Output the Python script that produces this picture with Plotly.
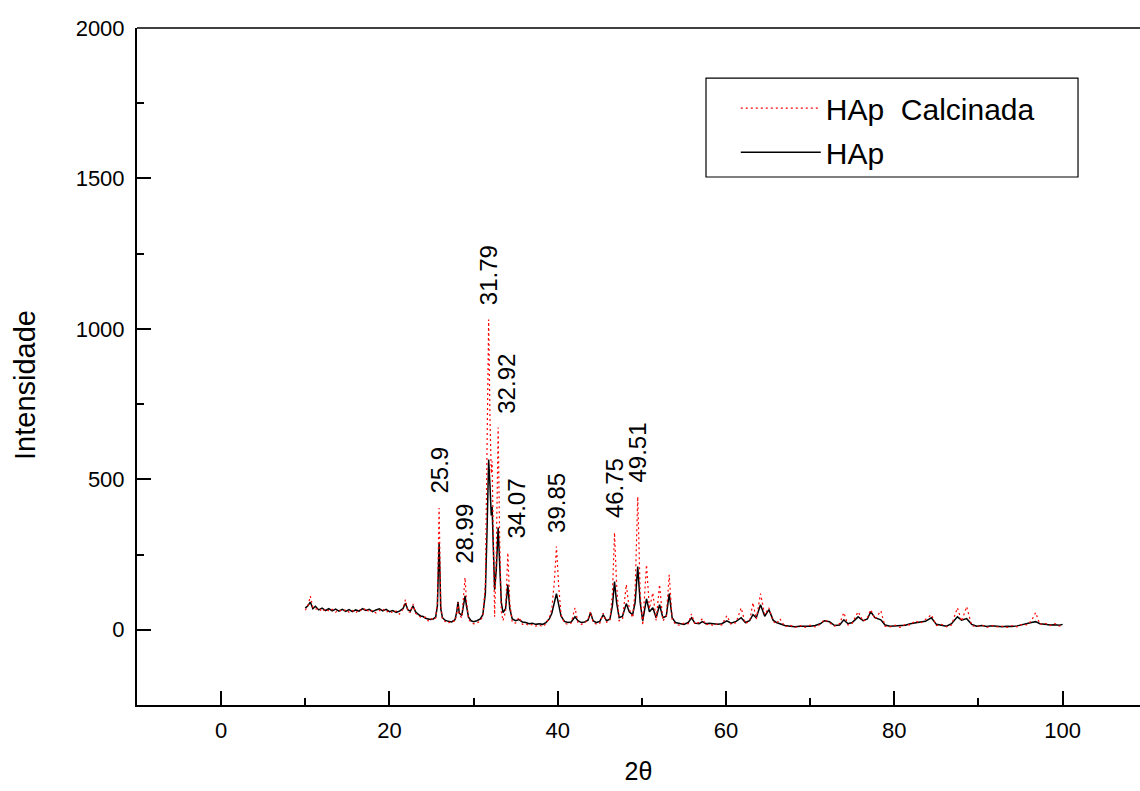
import plotly.graph_objects as go

# ---------------- data ----------------
two_theta = [
    10.0, 10.3, 10.6, 10.9, 11.2, 11.6, 12.0, 12.4, 12.8, 13.2, 13.6, 14.0, 14.4, 14.8,
    15.2, 15.6, 16.0, 16.4, 16.8, 17.2, 17.6, 18.0, 18.4, 18.8, 19.2, 19.6, 20.0, 20.4,
    20.8, 21.2, 21.6, 21.9, 22.2, 22.5, 22.8, 23.1, 23.4, 23.7, 24.0, 24.3, 24.6, 24.9,
    25.2, 25.5, 25.7, 25.8, 25.9, 26.0, 26.1, 26.3, 26.6, 27.0, 27.4, 27.8, 28.0, 28.15,
    28.3, 28.6, 28.85, 28.99, 29.15, 29.4, 29.7, 30.0, 30.4, 30.8, 31.1, 31.4, 31.6, 31.79,
    31.95, 32.1, 32.2, 32.35, 32.5, 32.7, 32.92, 33.1, 33.3, 33.5, 33.8, 34.07, 34.3, 34.6,
    35.0, 35.4, 35.8, 36.2, 36.6, 37.0, 37.4, 37.8, 38.2, 38.6, 39.0, 39.3, 39.6, 39.85,
    40.1, 40.4, 40.8, 41.2, 41.6, 42.05, 42.4, 42.8, 43.2, 43.6, 43.9, 44.2, 44.6, 45.0,
    45.4, 45.8, 46.2, 46.5, 46.75, 47.0, 47.3, 47.7, 48.15, 48.5, 48.9, 49.2, 49.51, 49.8,
    50.1, 50.55, 50.9, 51.3, 51.7, 52.1, 52.5, 52.9, 53.25, 53.6, 54.0, 54.5, 55.0, 55.5,
    55.9, 56.3, 56.8, 57.2, 57.6, 58.0, 58.5, 59.0, 59.5, 60.1, 60.6, 61.2, 61.8, 62.3,
    62.8, 63.2, 63.6, 64.1, 64.6, 65.1, 65.6, 66.0, 66.4, 67.0, 67.6, 68.2, 68.8, 69.4,
    70.0, 70.6, 71.2, 71.7, 72.3, 72.9, 73.5, 74.0, 74.5, 75.0, 75.7, 76.3, 76.8, 77.2,
    77.7, 78.4, 78.9, 79.5, 80.1, 80.7, 81.3, 81.9, 82.5, 83.1, 83.7, 84.4, 85.0, 85.6,
    86.2, 86.8, 87.5, 88.0, 88.6, 89.2, 89.8, 90.4, 91.0, 91.6, 92.2, 92.8, 93.4, 94.0,
    94.6, 95.2, 95.8, 96.3, 96.8, 97.3, 97.9, 98.5, 99.1, 99.6, 100.0,
]

hap = [
    72, 80, 92, 70, 78, 66, 72, 64, 70, 63, 69, 62, 68, 61,
    67, 60, 66, 62, 70, 64, 68, 60, 66, 70, 63, 68, 60, 64,
    58, 62, 70, 88, 66, 62, 80, 60, 52, 46, 44, 38, 36, 34,
    36, 42, 80, 200, 289, 190, 70, 40, 32, 28, 26, 34, 60, 93,
    55, 48, 85, 113, 80, 42, 30, 27, 30, 36, 50, 120, 330, 566,
    480, 380, 409, 250, 133, 200, 340, 220, 90, 57, 70, 150, 70, 36,
    30, 34, 26, 24, 20, 22, 18, 20, 18, 24, 36, 55, 90, 120,
    85, 45, 28, 24, 26, 43, 30, 24, 26, 32, 57, 30, 24, 28,
    50, 30, 35, 80, 160, 90, 40, 45, 87, 60, 50, 90, 210, 90,
    30, 103, 60, 73, 40, 83, 40, 45, 120, 40, 24, 20, 18, 24,
    40, 22, 20, 27, 20, 22, 19, 18, 20, 30, 22, 28, 40, 24,
    30, 50, 40, 83, 45, 67, 32, 24, 20, 14, 12, 10, 12, 11,
    12, 14, 20, 30, 27, 14, 16, 33, 20, 24, 43, 30, 36, 60,
    40, 33, 16, 12, 13, 12, 15, 20, 24, 26, 28, 40, 18, 14,
    12, 20, 43, 32, 37, 18, 12, 14, 11, 13, 12, 10, 12, 11,
    13, 16, 20, 24, 27, 20, 18, 16, 17, 15, 18,
]

hap_calcinada = [
    65, 78, 112, 75, 68, 72, 60, 70, 62, 68, 58, 66, 60, 67,
    58, 64, 56, 68, 62, 72, 58, 65, 56, 62, 70, 58, 64, 55,
    62, 52, 68, 100, 60, 58, 86, 55, 48, 42, 40, 42, 30, 38,
    32, 40, 90, 260, 405, 250, 80, 35, 28, 22, 30, 28, 55, 90,
    50, 40, 120, 173, 100, 35, 25, 20, 22, 30, 45, 150, 600, 1031,
    700, 520, 560, 300, 43, 250, 672, 300, 60, 30, 60, 256, 90, 25,
    22, 42, 18, 20, 14, 18, 12, 16, 10, 20, 40, 70, 160, 277,
    150, 50, 22, 18, 22, 73, 25, 18, 22, 35, 60, 25, 18, 22,
    55, 25, 30, 120, 323, 150, 30, 35, 150, 70, 40, 130, 442, 120,
    15, 216, 70, 123, 30, 150, 30, 45, 183, 35, 18, 15, 22, 20,
    53, 18, 25, 37, 16, 20, 14, 20, 16, 47, 18, 24, 73, 20,
    28, 90, 35, 120, 50, 73, 28, 20, 37, 10, 15, 8, 14, 8,
    15, 10, 18, 34, 22, 12, 20, 57, 16, 22, 60, 28, 40, 67,
    35, 63, 12, 10, 15, 8, 18, 16, 30, 22, 34, 50, 14, 18,
    10, 16, 73, 28, 77, 14, 10, 16, 8, 14, 10, 12, 8, 14,
    10, 18, 16, 30, 57, 18, 22, 14, 20, 12, 16,
]

peak_labels = ["25.9", "28.99", "31.79", "32.92", "34.07", "39.85", "46.75", "49.51"]

x_tick_values = [0, 20, 40, 60, 80, 100]
y_tick_values = [0, 500, 1000, 1500, 2000]

# ---------------- figure ----------------
FONT = "Liberation Sans, Arial, sans-serif"

fig = go.Figure()
fig.add_trace(go.Scatter(
    x=two_theta, y=hap, mode="lines", name="HAp", legendgroup="hap", legendrank=2,
    line=dict(color="black", width=1.5),
))
fig.add_trace(go.Scatter(
    x=two_theta, y=hap_calcinada, mode="lines", name="HAp\u00a0\u00a0Calcinada",
    legendgroup="calc", legendrank=1,
    line=dict(color="red", width=1.2, dash="2px,3px"),
))

label_xshift = {"32.92": 8, "34.07": 9}
for lab in peak_labels:
    xv = float(lab)
    i = two_theta.index(xv)
    fig.add_annotation(
        x=xv, y=hap_calcinada[i], text=lab, textangle=-90, showarrow=False,
        xanchor="center", yanchor="bottom", yshift=12, xshift=label_xshift.get(lab, 0),
        font=dict(family=FONT, size=24, color="black"),
    )

# y-axis title (placed as in the reference, slightly below the plot centre)
fig.add_annotation(
    xref="paper", yref="paper", x=0, y=0.4727, xanchor="center", yanchor="middle",
    xshift=-112, text="Intensidade", textangle=-90, showarrow=False,
    font=dict(family=FONT, size=29, color="black"),
)

fig.update_layout(
    width=1140, height=791,
    margin=dict(l=137, r=0, t=28, b=86),
    paper_bgcolor="white", plot_bgcolor="white",
    font=dict(family=FONT, color="black"),
    showlegend=True,
    legend=dict(
        x=0.597, y=0.92, xanchor="left", yanchor="top",
        bgcolor="rgba(0,0,0,0)", borderwidth=0,
        font=dict(family=FONT, size=30, color="black"),
        traceorder="grouped", tracegroupgap=2, itemwidth=80,
    ),
    shapes=[
        dict(type="rect", xref="paper", yref="paper",
             x0=0.5673, x1=0.9382, y0=0.7799, y1=0.9261,
             line=dict(color="black", width=1.2)),
        dict(type="line", xref="paper", yref="paper",
             x0=0, x1=1, y0=1, y1=1, line=dict(color="black", width=1.5)),
    ],
)

fig.update_xaxes(
    range=[-10, 109.2], tickvals=x_tick_values, ticks="inside", ticklen=14, tickwidth=1.5,
    tickcolor="black", minor=dict(tick0=0, dtick=10, ticks="inside", ticklen=7,
                                  tickwidth=1.5, tickcolor="black"),
    showline=True, linewidth=2, linecolor="black", showgrid=False, zeroline=False,
    tickfont=dict(family=FONT, size=22, color="black"), ticklabelstandoff=5,
    title=dict(text="2\u03b8", font=dict(family=FONT, size=25, color="black"), standoff=20),
)
fig.update_yaxes(
    range=[-250, 2000], tickvals=y_tick_values, ticks="inside", ticklen=14, tickwidth=1.5,
    tickcolor="black", minor=dict(tick0=0, dtick=250, ticks="inside", ticklen=7,
                                  tickwidth=1.5, tickcolor="black"),
    showline=True, linewidth=2, linecolor="black", showgrid=False, zeroline=False,
    tickfont=dict(family=FONT, size=22, color="black"), ticklabelstandoff=6,
)

fig.write_html("out.html")
